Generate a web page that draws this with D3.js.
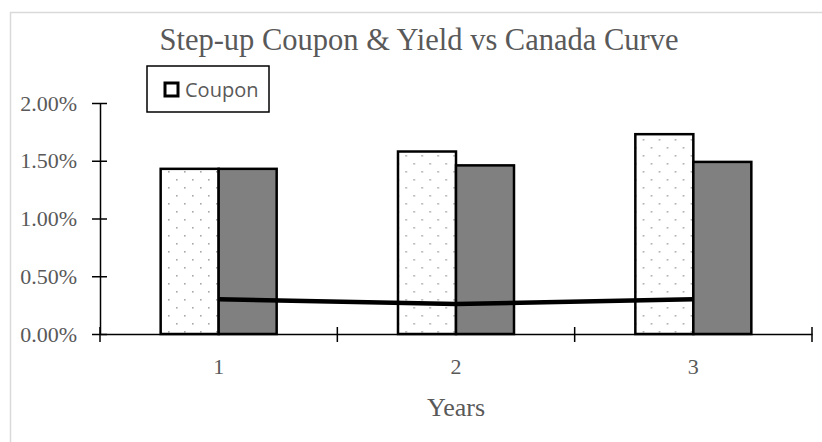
<!DOCTYPE html>
<html>
  <head>
    <meta charset="UTF-8">
    <title>Step-up Coupon & Yield vs Canada Curve</title>
    <style type="text/css">
      body { margin: 0; background: #fff; }
      .axisText { font-family: 'Liberation Serif', 'Times New Roman', serif; fill: #595959; }
    </style>
  </head>
  <body>
    <script src="https://d3js.org/d3.v7.min.js"></script>
    <script>

      // Data
      var years = ["1", "2", "3"];
      var coupon = [0.0143, 0.0158, 0.0173];
      var yieldVals = [0.0143, 0.0146, 0.0149];
      var canadaCurve = [0.0030, 0.0026, 0.0030];
      var yTicks = [0, 0.005, 0.01, 0.015, 0.02];

      var svgWidth = 822,
          svgHeight = 442,
          margin = {top:103, right:10, bottom:108, left:100},
          width = 712,
          height = 231;

      var svg = d3.select("body")
                  .append("svg")
                  .attr("width", svgWidth)
                  .attr("height", svgHeight);

      // chart area frame (right and bottom edges fall outside the picture)
      svg.append("rect")
         .attr("x", 10.5)
         .attr("y", 12.5)
         .attr("width", 830)
         .attr("height", 450)
         .attr("fill", "white")
         .attr("stroke", "#d9d9d9")
         .attr("stroke-width", 1.5);

      // dotted fill for coupon bars
      var defs = svg.append("defs");
      var pat = defs.append("pattern")
                    .attr("id", "dots")
                    .attr("patternUnits", "userSpaceOnUse")
                    .attr("width", 16)
                    .attr("height", 16);
      pat.append("rect").attr("width", 16).attr("height", 16).attr("fill", "white");
      pat.append("rect").attr("x", 4).attr("y", 4).attr("width", 1.6).attr("height", 1.6).attr("fill", "#a8a8a8");
      pat.append("rect").attr("x", 12).attr("y", 12).attr("width", 1.6).attr("height", 1.6).attr("fill", "#a8a8a8");

      var canvas = svg.append("g")
                      .attr("transform", "translate("+margin.left+","+margin.top+")");

      // Scales
      var xScale = d3.scaleBand()
                     .domain(years)
                     .range([0, width])
                     .padding(0);

      var bw = xScale.bandwidth();
      var groupW = 116;
      var subScale = d3.scaleBand()
                       .domain(["coupon", "yield"])
                       .range([(bw - groupW)/2, (bw + groupW)/2]);

      var yScale = d3.scaleLinear()
                     .domain([0, 0.02])
                     .range([height, 0]);

      // Title
      svg.append("text")
         .attr("class", "axisText")
         .attr("x", 419)
         .attr("y", 50)
         .attr("text-anchor", "middle")
         .style("font-size", "30.5px")
         .text("Step-up Coupon & Yield vs Canada Curve");

      // Bars
      var rows = years.map((y, i) => ({year: y, coupon: coupon[i], yield: yieldVals[i]}));

      var groups = canvas.selectAll("g.yr")
                         .data(rows)
                         .enter()
                         .append("g")
                         .attr("class", "yr")
                         .attr("transform", d => "translate(" + xScale(d.year) + ",0)");

      groups.append("rect")
            .attr("x", subScale("coupon"))
            .attr("width", subScale.bandwidth())
            .attr("y", d => yScale(d.coupon))
            .attr("height", d => height - yScale(d.coupon))
            .attr("fill", "url(#dots)")
            .attr("stroke", "black")
            .attr("stroke-width", 2.5);

      groups.append("rect")
            .attr("x", subScale("yield"))
            .attr("width", subScale.bandwidth())
            .attr("y", d => yScale(d.yield))
            .attr("height", d => height - yScale(d.yield))
            .attr("fill", "#808080")
            .attr("stroke", "black")
            .attr("stroke-width", 2.5);

      // Canada curve line
      var line = d3.line()
                   .x((d, i) => xScale(years[i]) + bw/2)
                   .y(d => yScale(d));

      canvas.append("path")
            .datum(canadaCurve)
            .attr("d", line)
            .attr("fill", "none")
            .attr("stroke", "black")
            .attr("stroke-width", 4.5);

      // Axes
      var yAxis = d3.axisLeft(yScale)
                    .tickValues(yTicks)
                    .tickFormat(d3.format(".2%"))
                    .tickSizeInner(-7)
                    .tickSizeOuter(0)
                    .tickPadding(23);

      var gY = canvas.append("g").call(yAxis);
      gY.selectAll(".tick line").attr("x1", -8).attr("x2", 7);

      var xAxis = d3.axisBottom(xScale)
                    .tickSize(0)
                    .tickPadding(24);

      var gX = canvas.append("g")
                     .attr("transform", "translate(0,"+height+")")
                     .call(xAxis);

      // boundary ticks between categories
      gX.selectAll("line.bound")
        .data(d3.range(years.length + 1))
        .enter()
        .append("line")
        .attr("class", "bound")
        .attr("x1", i => i * bw)
        .attr("x2", i => i * bw)
        .attr("y1", -7)
        .attr("y2", 8)
        .attr("stroke", "black")
        .attr("stroke-width", 1.5);

      [gY, gX].forEach(g => {
        g.select(".domain").attr("stroke", "black").attr("stroke-width", 1.5);
        g.selectAll(".tick line").attr("stroke", "black").attr("stroke-width", 1.5);
        g.selectAll("text")
         .attr("class", "axisText")
         .style("font-size", "22px");
      });

      // Axis title
      canvas.append("text")
            .attr("class", "axisText")
            .attr("x", width/2)
            .attr("y", height + 82)
            .attr("text-anchor", "middle")
            .style("font-size", "26px")
            .text("Years");

      // Legend
      var legend = svg.append("g").attr("transform", "translate(147,66)");
      legend.append("rect")
            .attr("width", 122)
            .attr("height", 46)
            .attr("fill", "white")
            .attr("stroke", "black")
            .attr("stroke-width", 1.5);
      legend.append("rect")
            .attr("x", 18)
            .attr("y", 17)
            .attr("width", 13)
            .attr("height", 13)
            .attr("fill", "white")
            .attr("stroke", "black")
            .attr("stroke-width", 3);
      legend.append("text")
            .attr("x", 38)
            .attr("y", 31)
            .attr("fill", "#595959")
            .style("font-family", "'Open Sans', sans-serif")
            .style("font-size", "20px")
            .text("Coupon");

    </script>
  </body>
</html>
